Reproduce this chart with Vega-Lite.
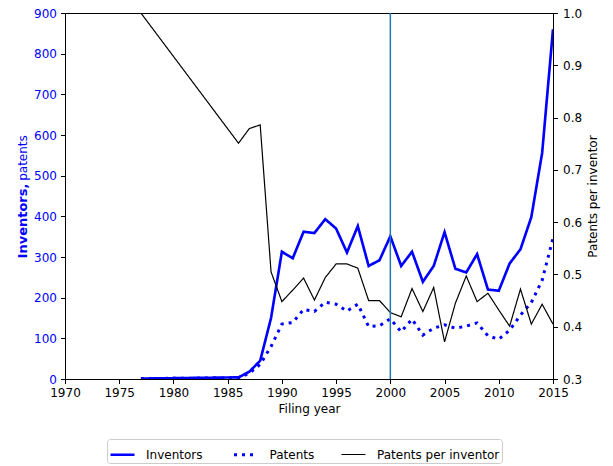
{
  "$schema": "https://vega.github.io/schema/vega-lite/v6.json",
  "width": 488,
  "height": 366,
  "autosize": {"type": "none"},
  "padding": {"left": 65, "top": 13, "right": 60, "bottom": 87},
  "background": "white",
  "config": {
    "font": "DejaVu Sans",
    "view": {"stroke": "black", "strokeWidth": 1},
    "axis": {"labelFont": "DejaVu Sans", "titleFont": "DejaVu Sans", "labelFontSize": 12, "titleFontSize": 12, "titleFontWeight": "normal", "grid": false, "domainColor": "black", "tickColor": "black", "labelColor": "black", "titleColor": "black", "tickSize": 4.5, "labelPadding": 4, "labelFlush": false, "labelOverlap": false},
    "legend": {"labelFont": "DejaVu Sans", "labelFontSize": 12}
  },
  "data": {"values": [
    {"year": 1977, "series": "Inventors", "v": 1},
    {"year": 1986, "series": "Inventors", "v": 4},
    {"year": 1987, "series": "Inventors", "v": 18},
    {"year": 1988, "series": "Inventors", "v": 45},
    {"year": 1989, "series": "Inventors", "v": 150},
    {"year": 1990, "series": "Inventors", "v": 313},
    {"year": 1991, "series": "Inventors", "v": 297},
    {"year": 1992, "series": "Inventors", "v": 362},
    {"year": 1993, "series": "Inventors", "v": 359},
    {"year": 1994, "series": "Inventors", "v": 393},
    {"year": 1995, "series": "Inventors", "v": 370},
    {"year": 1996, "series": "Inventors", "v": 311},
    {"year": 1997, "series": "Inventors", "v": 376},
    {"year": 1998, "series": "Inventors", "v": 278},
    {"year": 1999, "series": "Inventors", "v": 292},
    {"year": 2000, "series": "Inventors", "v": 351},
    {"year": 2001, "series": "Inventors", "v": 278},
    {"year": 2002, "series": "Inventors", "v": 313},
    {"year": 2003, "series": "Inventors", "v": 239},
    {"year": 2004, "series": "Inventors", "v": 278},
    {"year": 2005, "series": "Inventors", "v": 361},
    {"year": 2006, "series": "Inventors", "v": 271},
    {"year": 2007, "series": "Inventors", "v": 262},
    {"year": 2008, "series": "Inventors", "v": 307},
    {"year": 2009, "series": "Inventors", "v": 220},
    {"year": 2010, "series": "Inventors", "v": 217},
    {"year": 2011, "series": "Inventors", "v": 284},
    {"year": 2012, "series": "Inventors", "v": 319},
    {"year": 2013, "series": "Inventors", "v": 398},
    {"year": 2014, "series": "Inventors", "v": 556},
    {"year": 2015, "series": "Inventors", "v": 860},
    {"year": 1977, "series": "Patents", "v": 1},
    {"year": 1986, "series": "Patents", "v": 3},
    {"year": 1987, "series": "Patents", "v": 14},
    {"year": 1988, "series": "Patents", "v": 36},
    {"year": 1989, "series": "Patents", "v": 80},
    {"year": 1990, "series": "Patents", "v": 135},
    {"year": 1991, "series": "Patents", "v": 139},
    {"year": 1992, "series": "Patents", "v": 171},
    {"year": 1993, "series": "Patents", "v": 166},
    {"year": 1994, "series": "Patents", "v": 189},
    {"year": 1995, "series": "Patents", "v": 184},
    {"year": 1996, "series": "Patents", "v": 167},
    {"year": 1997, "series": "Patents", "v": 184},
    {"year": 1998, "series": "Patents", "v": 129},
    {"year": 1999, "series": "Patents", "v": 131},
    {"year": 2000, "series": "Patents", "v": 148},
    {"year": 2001, "series": "Patents", "v": 116},
    {"year": 2002, "series": "Patents", "v": 147},
    {"year": 2003, "series": "Patents", "v": 108},
    {"year": 2004, "series": "Patents", "v": 125},
    {"year": 2005, "series": "Patents", "v": 133},
    {"year": 2006, "series": "Patents", "v": 125},
    {"year": 2007, "series": "Patents", "v": 130},
    {"year": 2008, "series": "Patents", "v": 138},
    {"year": 2009, "series": "Patents", "v": 106},
    {"year": 2010, "series": "Patents", "v": 98},
    {"year": 2011, "series": "Patents", "v": 120},
    {"year": 2012, "series": "Patents", "v": 157},
    {"year": 2013, "series": "Patents", "v": 188},
    {"year": 2014, "series": "Patents", "v": 243},
    {"year": 2015, "series": "Patents", "v": 346},
    {"year": 1977, "series": "Patents per inventor", "v": 1.0},
    {"year": 1986, "series": "Patents per inventor", "v": 0.751},
    {"year": 1987, "series": "Patents per inventor", "v": 0.779},
    {"year": 1988, "series": "Patents per inventor", "v": 0.786},
    {"year": 1989, "series": "Patents per inventor", "v": 0.505},
    {"year": 1990, "series": "Patents per inventor", "v": 0.448},
    {"year": 1991, "series": "Patents per inventor", "v": 0.470},
    {"year": 1992, "series": "Patents per inventor", "v": 0.493},
    {"year": 1993, "series": "Patents per inventor", "v": 0.451},
    {"year": 1994, "series": "Patents per inventor", "v": 0.494},
    {"year": 1995, "series": "Patents per inventor", "v": 0.520},
    {"year": 1996, "series": "Patents per inventor", "v": 0.520},
    {"year": 1997, "series": "Patents per inventor", "v": 0.512},
    {"year": 1998, "series": "Patents per inventor", "v": 0.450},
    {"year": 1999, "series": "Patents per inventor", "v": 0.450},
    {"year": 2000, "series": "Patents per inventor", "v": 0.427},
    {"year": 2001, "series": "Patents per inventor", "v": 0.419},
    {"year": 2002, "series": "Patents per inventor", "v": 0.473},
    {"year": 2003, "series": "Patents per inventor", "v": 0.429},
    {"year": 2004, "series": "Patents per inventor", "v": 0.475},
    {"year": 2005, "series": "Patents per inventor", "v": 0.371},
    {"year": 2006, "series": "Patents per inventor", "v": 0.445},
    {"year": 2007, "series": "Patents per inventor", "v": 0.497},
    {"year": 2008, "series": "Patents per inventor", "v": 0.448},
    {"year": 2009, "series": "Patents per inventor", "v": 0.464},
    {"year": 2010, "series": "Patents per inventor", "v": 0.432},
    {"year": 2011, "series": "Patents per inventor", "v": 0.401},
    {"year": 2012, "series": "Patents per inventor", "v": 0.472},
    {"year": 2013, "series": "Patents per inventor", "v": 0.405},
    {"year": 2014, "series": "Patents per inventor", "v": 0.443},
    {"year": 2015, "series": "Patents per inventor", "v": 0.405}
  ]},
  "layer": [
    {
      "transform": [{"filter": "datum.series !== 'Patents per inventor'"}],
      "mark": {"type": "line", "clip": true},
      "encoding": {
        "x": {"field": "year", "type": "quantitative", "scale": {"domain": [1970, 2015], "nice": false, "zero": false}, "axis": {"title": "Filing year", "values": [1970, 1975, 1980, 1985, 1990, 1995, 2000, 2005, 2010, 2015], "format": "d", "titlePadding": 5}},
        "y": {"field": "v", "type": "quantitative", "scale": {"domain": [0, 900], "nice": false}, "axis": {"orient": "left", "title": "patents", "titleColor": "#0000ff", "labelColor": "#0000ff", "values": [0, 100, 200, 300, 400, 500, 600, 700, 800, 900], "titleAngle": 270, "titleBaseline": "alphabetic", "titleAlign": "center", "titleX": -39, "titleY": 144.5}},
        "color": {"field": "series", "type": "nominal", "scale": {"domain": ["Patents per inventor", "_a", "_b", "_c", "Inventors", "Patents"], "range": ["#000000", "#000000", "#000000", "#000000", "#0000ff", "#0000ff"]}, "legend": {"title": null, "values": ["Inventors", "Patents", "Patents per inventor"], "orient": "none", "legendX": 42, "legendY": 426, "direction": "horizontal", "columns": 3, "symbolType": "stroke", "symbolSize": 576, "strokeColor": "#cccccc", "fillColor": "white", "padding": 2, "cornerRadius": 3, "columnPadding": 24.5, "labelOffset": 10}},
        "strokeDash": {"field": "series", "type": "nominal", "scale": {"domain": ["Patents per inventor", "_a", "_b", "_c", "Inventors", "Patents"], "range": [[1, 0], [1, 0], [1, 0], [1, 0], [1, 0], [3, 5]]}, "legend": {"title": null, "values": ["Inventors", "Patents", "Patents per inventor"]}},
        "strokeWidth": {"field": "series", "type": "nominal", "scale": {"domain": ["Patents per inventor", "_a", "_b", "_c", "Inventors", "Patents"], "range": [1.2, 3]}, "legend": {"title": null, "values": ["Inventors", "Patents", "Patents per inventor"]}},
        "detail": {"field": "series"}
      }
    },
    {
      "transform": [{"filter": "datum.series === 'Patents per inventor'"}],
      "mark": {"type": "line", "clip": true},
      "encoding": {
        "x": {"field": "year", "type": "quantitative"},
        "y": {"field": "v", "type": "quantitative", "scale": {"domain": [0.3, 1.0], "nice": false, "zero": false}, "axis": {"orient": "right", "title": "Patents per inventor", "titleAngle": 270, "titleBaseline": "alphabetic", "titleAlign": "center", "titleX": 43.5, "format": ".1f", "values": [0.3, 0.4, 0.5, 0.6, 0.7, 0.8, 0.9, 1.0], "labelPadding": 5}},
        "color": {"field": "series", "type": "nominal"},
        "strokeDash": {"field": "series", "type": "nominal"},
        "strokeWidth": {"field": "series", "type": "nominal"}
      }
    },
    {
      "data": {"values": [{"year": 2000}]},
      "mark": {"type": "rule", "color": "#1f77b4", "strokeWidth": 1.5},
      "encoding": {"x": {"field": "year", "type": "quantitative"}}
    },
    {
      "data": {"values": [{"w": 0}]},
      "mark": {"type": "point", "opacity": 0},
      "encoding": {
        "y": {"field": "w", "type": "quantitative", "scale": {"domain": [0, 900], "nice": false}, "axis": {"orient": "left", "title": "Inventors,", "titleFontWeight": "bold", "titleFontSize": 13, "titleColor": "#0000ff", "labels": false, "ticks": false, "domain": false, "titleAngle": 270, "titleBaseline": "alphabetic", "titleAlign": "center", "titleX": -39, "titleY": 207.5}}
      }
    }
  ],
  "resolve": {"scale": {"y": "independent"}, "axis": {"y": "independent"}}
}
